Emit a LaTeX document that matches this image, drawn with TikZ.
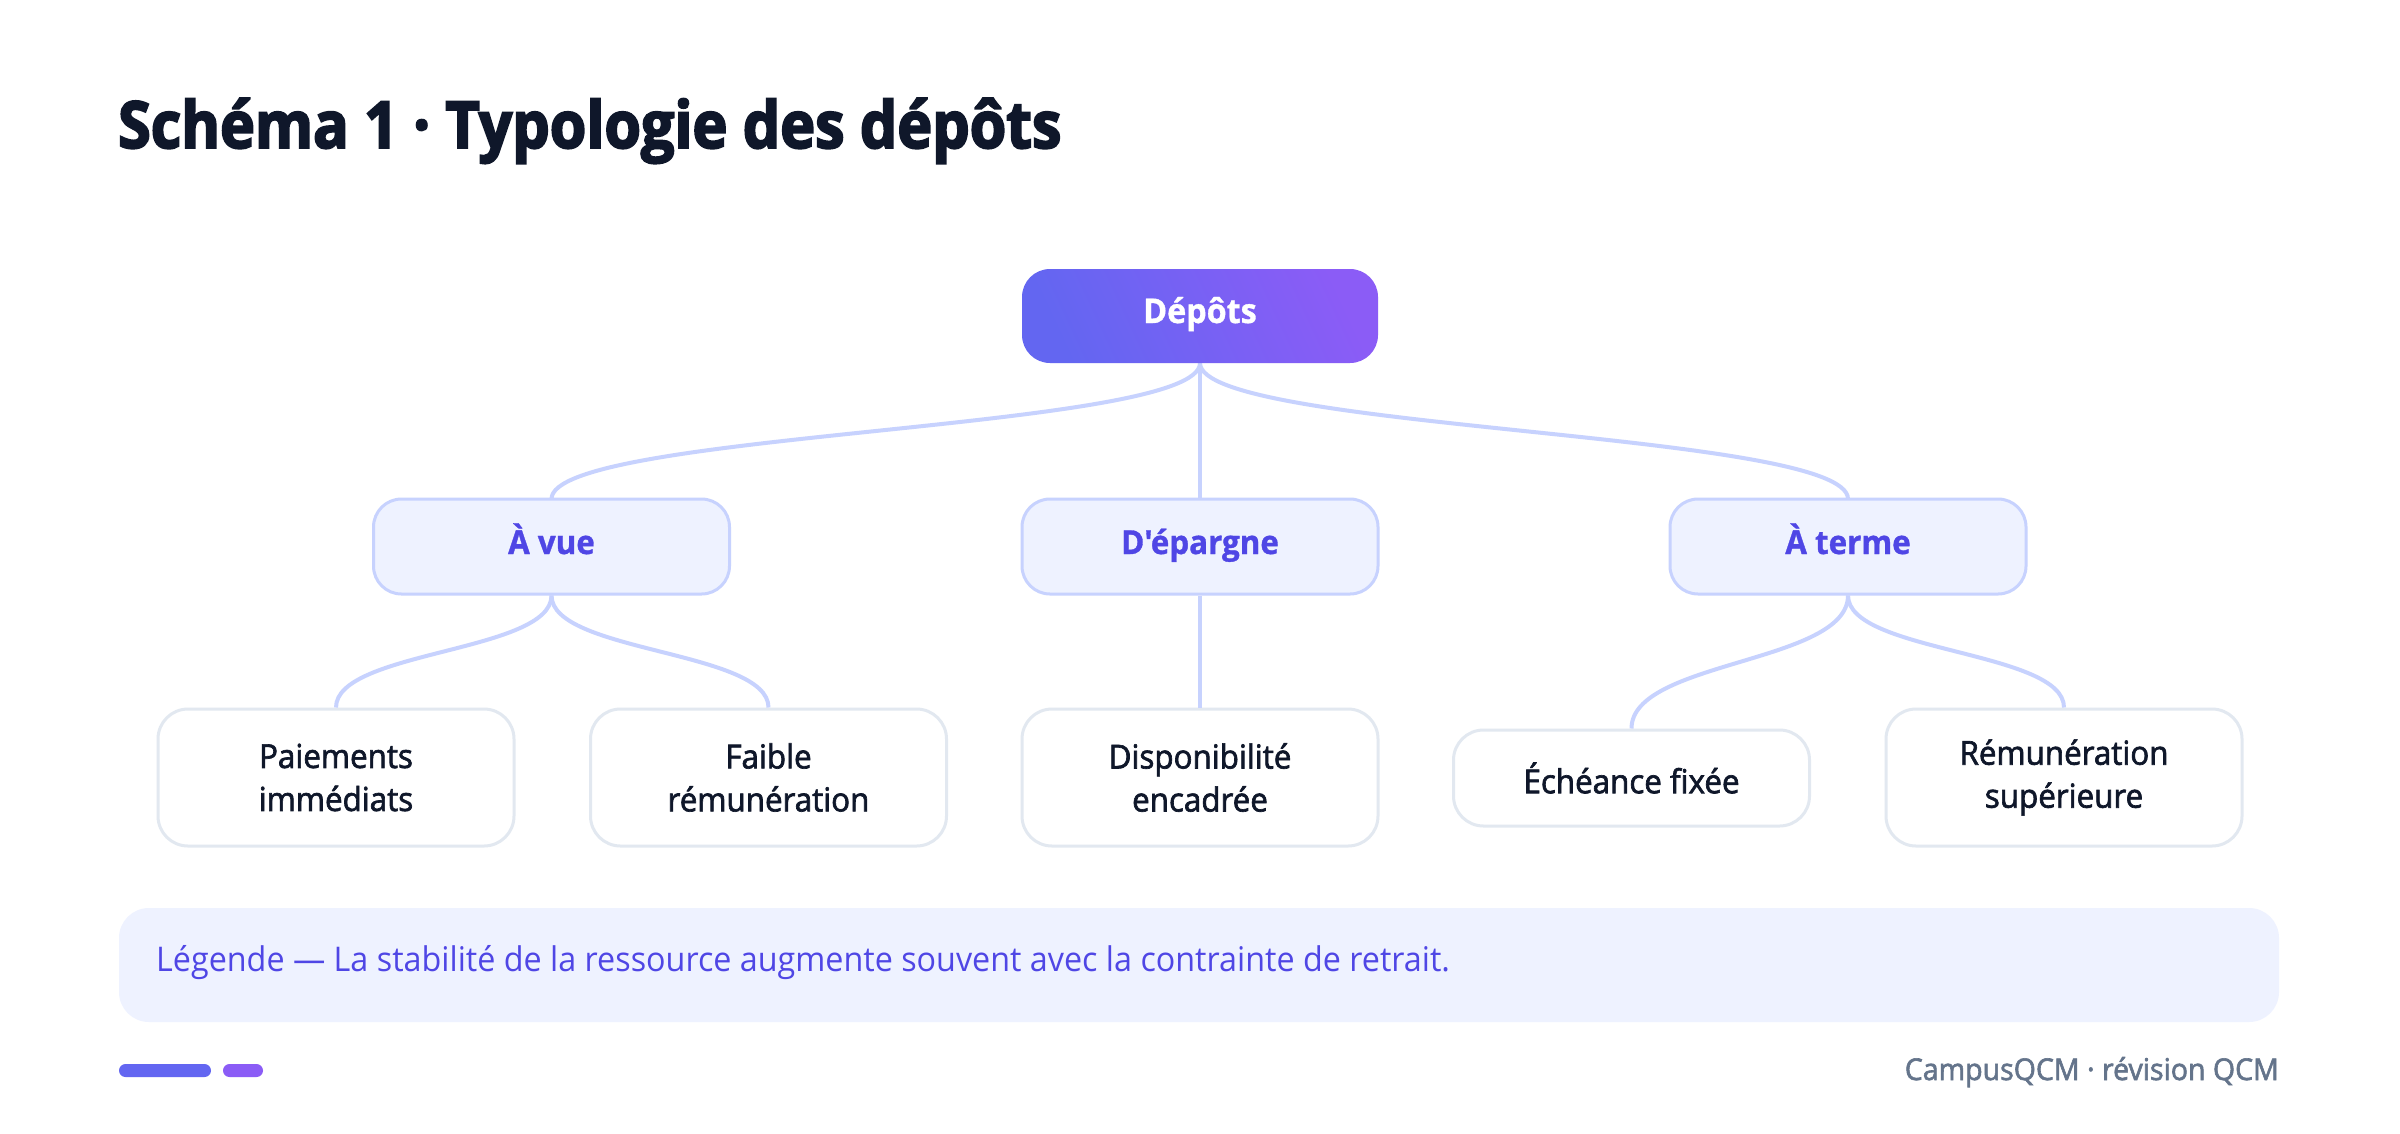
\documentclass[tikz,border=0pt]{standalone}
\usepackage{fontspec}
\newfontfamily\uifont{Open Sans}[FakeStretch=0.95]
\newfontfamily\uiboldfam{Open Sans}[FakeStretch=0.95,BoldFeatures={FakeBold=1}]
\newcommand\uibold{\uiboldfam\bfseries}
\newfontfamily\uisemi{Open Sans}[FakeStretch=0.95,FakeBold=2]
\newfontfamily\titlefam{Open Sans}[FakeStretch=0.91,BoldFeatures={FakeBold=3}]
\newcommand\titlefont{\titlefam\bfseries}
\definecolor{titlec}{HTML}{0F172A}
\definecolor{indigoA}{HTML}{6366F1}
\definecolor{violetA}{HTML}{8B5CF6}
\definecolor{lvfill}{HTML}{EEF2FF}
\definecolor{lvstroke}{HTML}{C7D2FE}
\definecolor{lvtext}{HTML}{4F46E5}
\definecolor{leafstroke}{HTML}{E2E8F0}
\definecolor{leaftext}{HTML}{0F172A}
\definecolor{foottext}{HTML}{64748B}
\tikzset{
  rootbox/.style={rounded corners=28pt, minimum width=356pt, minimum height=94pt, inner sep=0pt,
    left color=indigoA, right color=violetA, shading angle=115, text=white,
    text height=23pt, text depth=9pt,
    font=\uibold\fontsize{34}{40}\selectfont},
  midbox/.style={rounded corners=28pt, minimum width=356pt, minimum height=95pt, inner sep=0pt,
    draw=lvstroke, line width=3pt, fill=lvfill, text=lvtext,
    text height=23pt, text depth=8pt,
    font=\uibold\fontsize{33}{40}\selectfont},
  leafbox/.style={rounded corners=30pt, minimum width=356pt, minimum height=137pt, inner sep=0pt,
    draw=leafstroke, line width=3pt, fill=white, text=leaftext, align=center,
    font=\uisemi\fontsize{33}{43}\selectfont},
  link/.style={draw=lvstroke, line width=4pt},
}
\begin{document}
\begin{tikzpicture}[x=1pt,y=-1pt]
\useasboundingbox[fill=white] (0,0) rectangle (2400,1133);
% title
\node[anchor=base west, inner sep=0pt, text=titlec, font=\titlefont\fontsize{65}{70}\selectfont] (title) at (118,148) {Schéma 1 · Typologie des dépôts};
% links
\coordinate (rs) at (1200,363);
\coordinate (vn) at (551.5,499);
\coordinate (tn) at (1848,499);
\path[link] (rs) .. controls (1200,431) and (551.5,431) .. (vn);
\path[link] (rs) -- (1200,499);
\path[link] (rs) .. controls (1200,431) and (1848,431) .. (tn);
% nodes
\node[rootbox] (root) at (1200,316) {Dépôts};
\node[midbox] (vue) at (551.5,546.5) {À vue};
\node[midbox] (epa) at (1200,546.5) {D'épargne};
\node[midbox] (ter) at (1848,546.5) {À terme};
\node[leafbox] (pai) at (336,777.5) {Paiements\\immédiats};
\node[leafbox] (fai) at (768.5,777.5) {Faible\\rémunération};
\node[leafbox] (dis) at (1200,777.5) {Disponibilité\\encadrée};
\node[leafbox, minimum height=96pt] (ech) at (1631.5,778) {Échéance fixée};
\node[leafbox] (rem) at (2064,777.5) {Rémunération\\supérieure};
\path[link] (vue.south) .. controls ([yshift=-57pt]vue.south) and ([yshift=57pt]pai.north) .. (pai.north);
\path[link] (vue.south) .. controls ([yshift=-57pt]vue.south) and ([yshift=57pt]fai.north) .. (fai.north);
\path[link] (epa.south) -- (dis.north);
\path[link] (ter.south) .. controls ([yshift=-68pt]ter.south) and ([yshift=68pt]ech.north) .. (ech.north);
\path[link] (ter.south) .. controls ([yshift=-57pt]ter.south) and ([yshift=57pt]rem.north) .. (rem.north);
% legend
\node[rounded corners=30pt, fill=lvfill, minimum width=2160pt, minimum height=114pt, inner sep=0pt] (legend) at (1199,965) {};
\node[anchor=west, inner sep=0pt, text=lvtext, font=\uifont\fontsize{34}{40}\selectfont] (legtext) at (156,963) {Légende — La stabilité de la ressource augmente souvent avec la contrainte de retrait.};
% footer
\node[rounded corners=6.5pt, fill=indigoA, minimum width=92pt, minimum height=13pt, inner sep=0pt] (bar1) at (165,1070.5) {};
\node[rounded corners=6.5pt, fill=violetA, minimum width=40pt, minimum height=13pt, inner sep=0pt] (bar2) at (243,1070.5) {};
\node[anchor=base east, inner sep=0pt, text=foottext, font=\uisemi\fontsize{30}{32}\selectfont] (foot) at (2279,1080) {CampusQCM · révision QCM};
\end{tikzpicture}
\end{document}
